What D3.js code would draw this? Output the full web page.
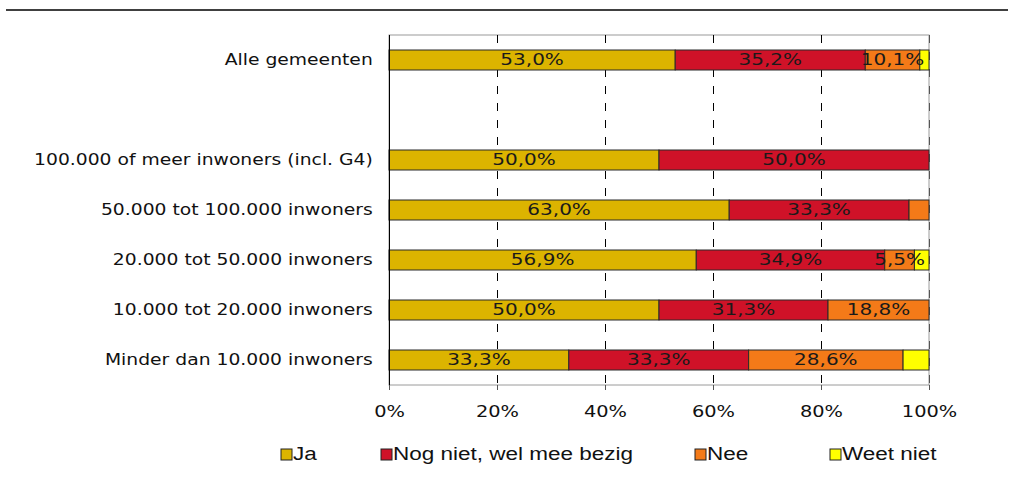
<!DOCTYPE html>
<html>
<head>
<meta charset="utf-8">
<script src="https://cdn.jsdelivr.net/npm/d3@7"></script>
<style>
  body { margin: 0; background: #fff; }
  svg { display: block; }
</style>
</head>
<body>
<svg id="chart" width="1012" height="496"></svg>
<script>
// categories top to bottom, "" is the empty gap row
const categories = [
  "Alle gemeenten",
  "",
  "100.000 of meer inwoners (incl. G4)",
  "50.000 tot 100.000 inwoners",
  "20.000 tot 50.000 inwoners",
  "10.000 tot 20.000 inwoners",
  "Minder dan 10.000 inwoners"
];
const seriesNames = ["Ja", "Nog niet, wel mee bezig", "Nee", "Weet niet"];
const ja        = [53.0, null, 50.0, 63.0, 56.9, 50.0, 33.3];
const nogNiet   = [35.2, null, 50.0, 33.3, 34.9, 31.3, 33.3];
const nee       = [10.1, null, 0.0, 3.7, 5.5, 18.8, 28.6];
const weetNiet  = [1.7, null, 0.0, 0.0, 2.7, 0.0, 4.8];
const xTicks = [0, 20, 40, 60, 80, 100];

const colors = ["#dcb400", "#cf1228", "#f47a18", "#ffff00"];
const labelMin = 5; // segments smaller than this get no label

const svg = d3.select("#chart");
const plotLeft = 389, plotRight = 929, plotTop = 35, plotBottom = 385;
const fontMain = "'DejaVu Sans', Verdana, sans-serif";
const stretch = "scale(1.25,1)"; // the original picture is stretched wide

// rule at the top of the page
svg.append("line")
  .attr("x1", 6).attr("x2", 1008).attr("y1", 10).attr("y2", 10)
  .attr("stroke", "#000").attr("stroke-width", 1.5);

const x = d3.scaleLinear().domain([0, 100]).range([plotLeft, plotRight]);
const y = d3.scaleBand().domain(categories).range([plotTop, plotBottom])
  .paddingInner(0.6).paddingOuter(0.3);

// plot area border
svg.append("rect")
  .attr("x", plotLeft).attr("y", plotTop)
  .attr("width", plotRight - plotLeft).attr("height", plotBottom - plotTop)
  .attr("fill", "none").attr("stroke", "#9a9a9a").attr("stroke-width", 1);

// dashed gridlines
svg.append("g")
  .selectAll("line")
  .data(xTicks.filter(d => d > 0))
  .join("line")
  .attr("x1", d => x(d) + 0.5).attr("x2", d => x(d) + 0.5)
  .attr("y1", plotTop).attr("y2", plotBottom)
  .attr("stroke", d => d === 100 ? "#555" : "#000")
  .attr("stroke-width", 1)
  .attr("stroke-dasharray", "8,9");

// stacked data
const rows = categories.map((c, i) => ({cat: c, vals: [ja[i], nogNiet[i], nee[i], weetNiet[i]]}))
  .filter(r => r.vals[0] !== null);

const segs = [];
rows.forEach(r => {
  let acc = 0;
  r.vals.forEach((v, k) => {
    if (v > 0) segs.push({cat: r.cat, k: k, x0: acc, x1: Math.min(acc + v, 100), v: v});
    acc += v;
  });
});

svg.append("g")
  .selectAll("rect")
  .data(segs)
  .join("rect")
  .attr("x", d => x(d.x0))
  .attr("y", d => y(d.cat))
  .attr("width", d => x(d.x1) - x(d.x0))
  .attr("height", y.bandwidth())
  .attr("fill", d => colors[d.k])
  .attr("stroke", "#2a2a2a")
  .attr("stroke-width", 1);

// value labels
svg.append("g")
  .selectAll("text")
  .data(segs.filter(d => d.v >= labelMin))
  .join("text")
  .attr("transform", d => `translate(${x((d.x0 + d.x1) / 2)},${y(d.cat) + y.bandwidth() / 2 + 1}) ${stretch}`)
  .attr("text-anchor", "middle")
  .attr("dominant-baseline", "middle")
  .style("font-family", fontMain)
  .style("font-size", "16px")
  .style("fill", "#1a1a1a")
  .text(d => d3.format(".1f")(d.v).replace(".", ",") + "%");

// left axis
const yAxis = svg.append("g")
  .attr("transform", `translate(${plotLeft},0)`)
  .call(d3.axisLeft(y).tickSize(0).tickPadding(13));
yAxis.select(".domain").remove();
yAxis.selectAll(".tick text")
  .attr("transform", stretch)
  .style("font-family", fontMain)
  .style("font-size", "15px")
  .style("fill", "#111");
svg.append("line")
  .attr("x1", plotLeft + 0.5).attr("x2", plotLeft + 0.5)
  .attr("y1", plotTop).attr("y2", plotBottom + 5)
  .attr("stroke", "#000").attr("stroke-width", 1);

// bottom axis
const xAxis = svg.append("g")
  .attr("transform", `translate(0,${plotBottom})`)
  .call(d3.axisBottom(x).tickValues(xTicks).tickSize(5).tickPadding(16)
    .tickFormat(d => d + "%"));
xAxis.select(".domain").remove();
xAxis.selectAll(".tick line").attr("stroke", "#555");
xAxis.selectAll(".tick text")
  .attr("transform", stretch)
  .style("font-family", fontMain)
  .style("font-size", "15.5px")
  .style("fill", "#111");

// legend
const legendX = [281, 381, 695, 830];
const legend = svg.append("g")
  .selectAll("g")
  .data(seriesNames)
  .join("g")
  .attr("transform", (d, i) => `translate(${legendX[i]},449)`);
legend.append("rect")
  .attr("width", 11).attr("height", 11)
  .attr("fill", (d, i) => colors[i])
  .attr("stroke", "#222").attr("stroke-width", 1);
legend.append("text")
  .attr("transform", `translate(12,6) ${stretch}`)
  .attr("dominant-baseline", "middle")
  .style("font-family", "'Liberation Sans', Arial, sans-serif")
  .style("font-size", "18px")
  .style("fill", "#111")
  .text(d => d);
</script>
</body>
</html>
